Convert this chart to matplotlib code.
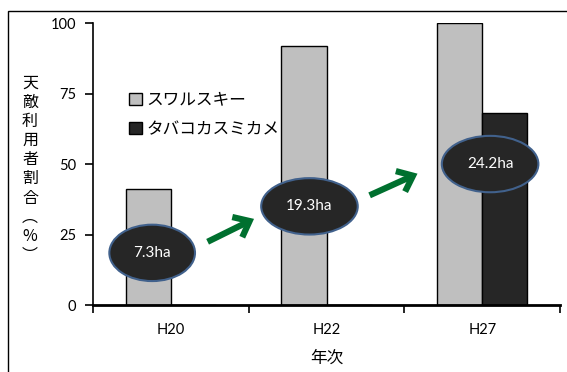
import matplotlib
matplotlib.use("Agg")
import matplotlib.pyplot as plt
from matplotlib.patches import Ellipse, FancyArrowPatch, Rectangle
import numpy as np

plt.rcParams['font.family'] = ['Lato', 'Noto Sans CJK JP', 'DejaVu Sans']

# 天敵利用者割合 (%) by year
years = ["H20", "H22", "H27"]
swirskii = [41, 92, 100]          # スワルスキー
tabako = [0, 0, 68]               # タバコカスミカメ
area_labels = ["7.3ha", "19.3ha", "24.2ha"]

# bubble centers (x in category units, y in %)
bubble_x = [-0.12, 0.89, 2.05]
bubble_y = [18.5, 35, 50]
bubble_w = [0.55, 0.62, 0.62]

fig = plt.figure(figsize=(5.67, 3.72), dpi=100)
ax = fig.add_axes([0.164, 0.180, 0.824, 0.758])

x = np.arange(len(years))
w = 0.29
ax.bar(x - w / 2, swirskii, w, color="#bfbfbf", edgecolor="black", linewidth=1,
       label="スワルスキー", zorder=2)
ax.bar(x + w / 2, tabako, w, color="#262626", edgecolor="black", linewidth=1,
       label="タバコカスミカメ", zorder=2)

ax.set_xlim(-0.5, 2.5)
ax.set_ylim(0, 100)
ax.set_yticks([0, 25, 50, 75, 100])
ax.tick_params(axis="y", direction="out", length=6, width=1.2, labelsize=10.5, pad=6)
ax.set_xticks(x)
ax.set_xticklabels(years)
ax.tick_params(axis="x", which="major", length=0, labelsize=10.5, pad=13)
ax.set_xticks([-0.5, 0.5, 1.5, 2.5], minor=True)
ax.tick_params(axis="x", which="minor", direction="out", length=6, width=1.2)
for side in ("top", "right"):
    ax.spines[side].set_visible(False)
ax.spines["left"].set_linewidth(1.2)
ax.spines["bottom"].set_linewidth(2)

ax.set_xlabel("年次", fontsize=12, labelpad=9,
              family=['Noto Sans CJK JP', 'DejaVu Sans'])

# vertical stacked y label
ylabel = "天敵利用者割合︵%︶"
fig.text(0.053, 0.545, "\n".join(ylabel), ha="center", va="center",
         fontsize=11.5, linespacing=1.17,
         family=['Noto Sans CJK JP', 'DejaVu Sans'])

ax.legend(loc="upper left", bbox_to_anchor=(0.045, 0.81), frameon=False,
          handlelength=0.75, handleheight=0.75, handletextpad=0.3,
          labelspacing=0.75, prop={'family': ['Noto Sans CJK JP'], 'size': 12})

# area bubbles
for bx, by, bw, lab in zip(bubble_x, bubble_y, bubble_w, area_labels):
    ax.add_patch(Ellipse((bx, by), bw, 20, facecolor="#262626",
                         edgecolor="#41618c", linewidth=1.5, zorder=4))
    ax.text(bx, by, lab, color="white", ha="center", va="center",
            fontsize=11, zorder=5)

# green arrows between bubbles
for (x0, y0), (x1, y1) in [((0.22, 22), (0.55, 31)), ((1.26, 38.5), (1.60, 47))]:
    ax.add_patch(FancyArrowPatch((x0, y0), (x1, y1),
                                 arrowstyle="->,head_length=0.55,head_width=0.45",
                                 mutation_scale=18, color="#00702f",
                                 linewidth=4.5, capstyle="butt", joinstyle="miter",
                                 zorder=3))

# outer frame
fig.add_artist(Rectangle((0.014, -0.1), 1.2, 1.07, transform=fig.transFigure,
                         fill=False, edgecolor="black", linewidth=1))

fig.savefig("out.png", dpi=100)
